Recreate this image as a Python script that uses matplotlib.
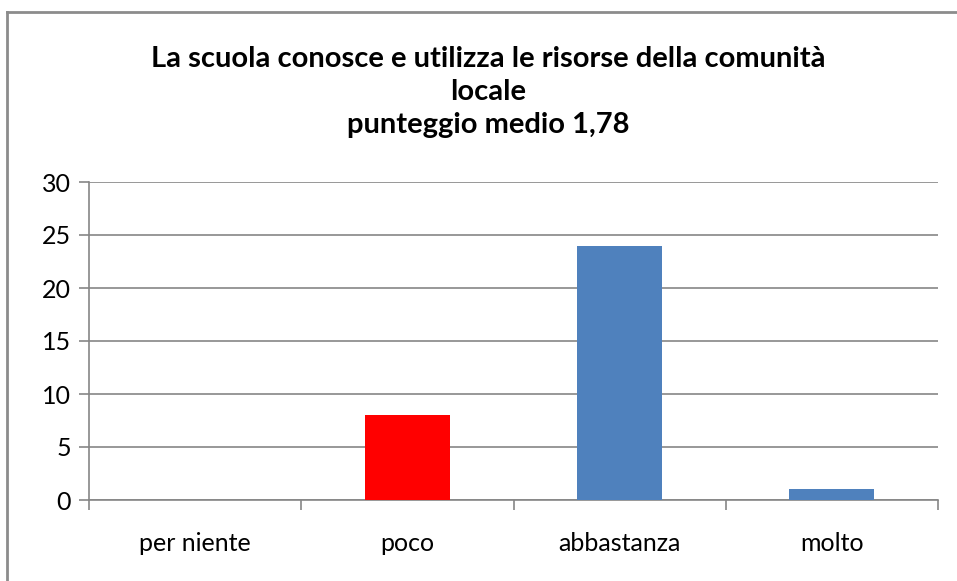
import matplotlib.pyplot as plt
from matplotlib.lines import Line2D
import numpy as np

plt.rcParams["font.family"] = ["Lato", "DejaVu Sans"]

categories = ["per niente", "poco", "abbastanza", "molto"]
values = [0, 8, 24, 1]
bar_colors = ["#4f81bd", "#ff0000", "#4f81bd", "#4f81bd"]
title = ("La scuola conosce e utilizza le risorse della comunità\n"
         "locale\npunteggio medio 1,78")

W, H = 957, 581
fig = plt.figure(figsize=(W / 100, H / 100), dpi=100)
fig.patch.set_facecolor("white")

# outer chart frame: only the left and top edges are inside the picture
fx, fy = 7.5 / W, 1 - 11.5 / H
fig.add_artist(Line2D([fx, fx], [0, fy], transform=fig.transFigure,
                      color="#8c8c8c", linewidth=2))
fig.add_artist(Line2D([fx, 1], [fy, fy], transform=fig.transFigure,
                      color="#8c8c8c", linewidth=2))

ax = fig.add_axes([89 / W, 1 - 500 / H, (938 - 89) / W, (500 - 182) / H])
x = np.arange(len(categories))
ax.bar(x, values, width=0.4, color=bar_colors, zorder=3)

ax.set_xlim(-0.5, len(categories) - 0.5)
ax.set_ylim(0, 30)
ax.set_yticks(range(0, 31, 5))
ax.yaxis.grid(True, color="#868686", linewidth=1.2, zorder=0)

ax.set_xticks(x)
ax.set_xticklabels(categories)
ax.set_xticks(np.arange(-0.5, len(categories)), minor=True)
ax.tick_params(axis="x", which="major", length=0, pad=23, labelsize=18)
ax.tick_params(axis="x", which="minor", length=7, color="#868686", width=1.2)
ax.tick_params(axis="y", length=7, color="#868686", width=1.2, labelsize=18, pad=6)

for side in ["top", "right"]:
    ax.spines[side].set_visible(False)
for side in ["left", "bottom"]:
    ax.spines[side].set_color("#868686")
    ax.spines[side].set_linewidth(1.2)

fig.text(488 / W, 1 - 92 / H, title, ha="center", va="center",
         fontsize=21, fontweight="bold", linespacing=1.33)

fig.savefig("out.png", dpi=100)
